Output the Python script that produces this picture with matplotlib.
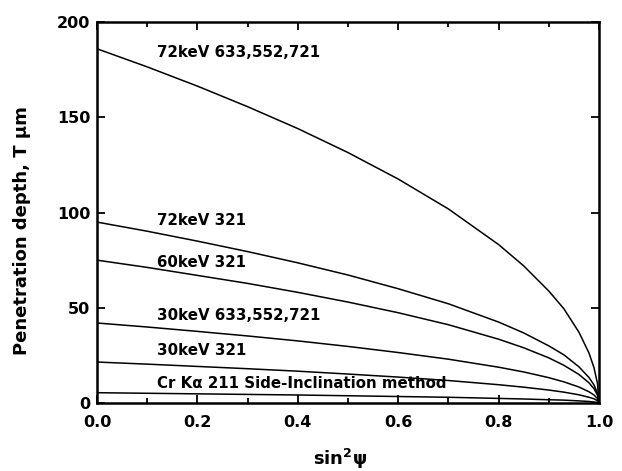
import matplotlib.pyplot as plt
from matplotlib.ticker import MultipleLocator

plt.rcParams['font.family'] = ['DejaVu Sans']
plt.rcParams['mathtext.fontset'] = 'dejavusans'

# sin^2(psi) sample points
sin2psi = [0.0, 0.1, 0.2, 0.3, 0.4, 0.5, 0.6, 0.7, 0.8, 0.85, 0.9, 0.93, 0.96, 0.98, 0.99, 0.997, 1.0]

# penetration depth T (um) for each condition
t_72kev_633 = [186, 176.5, 166.4, 155.6, 144.1, 131.5, 117.6, 101.9, 83.2, 72.0, 58.8, 49.5, 37.2, 26.3, 18.6, 10.2, 0]
t_72kev_321 = [95, 90.2, 85.0, 79.5, 73.6, 67.2, 60.0, 52.1, 42.5, 36.8, 30.0, 25.3, 19.0, 13.4, 9.5, 5.2, 0]
t_60kev_321 = [75, 71.2, 67.0, 62.8, 58.1, 53.0, 47.4, 41.1, 33.5, 29.0, 23.7, 19.8, 15.0, 10.6, 7.5, 4.1, 0]
t_30kev_633 = [42, 39.9, 37.6, 35.2, 32.6, 29.7, 26.5, 23.0, 18.8, 16.3, 13.3, 11.1, 8.4, 5.9, 4.2, 2.3, 0]
t_30kev_321 = [21.5, 20.4, 19.2, 18.0, 16.7, 15.2, 13.6, 11.8, 9.6, 8.3, 6.8, 5.7, 4.3, 3.0, 2.2, 1.2, 0]
t_cr_211 = [5.4, 5.1, 4.8, 4.5, 4.2, 3.8, 3.4, 3.0, 2.4, 2.1, 1.7, 1.5, 1.1, 0.8, 0.5, 0.3, 0]

series = [t_72kev_633, t_72kev_321, t_60kev_321, t_30kev_633, t_30kev_321, t_cr_211]
labels = ["72keV 633,552,721", "72keV 321", "60keV 321",
          "30keV 633,552,721", "30keV 321", "Cr K\u03b1 211 Side-Inclination method"]
label_y = [184, 96, 74, 46, 27.5, 10.3]

fig = plt.figure(figsize=(6.22, 4.71), dpi=100)
ax = fig.add_axes([0.156, 0.1444, 0.807, 0.8086])

for t in series:
    ax.plot(sin2psi, t, color='black', linewidth=1.1)

# curve labels
for lab, ly in zip(labels, label_y):
    ax.text(0.12, ly, lab, fontsize=10.8, fontweight='bold', va='center', ha='left')

ax.set_xlim(0, 1.0)
ax.set_ylim(0, 200)
ax.xaxis.set_minor_locator(MultipleLocator(0.1))
ax.yaxis.set_major_locator(MultipleLocator(50))
ax.set_xticks([0, 0.2, 0.4, 0.6, 0.8, 1.0])
ax.set_xticklabels(["0.0", "0.2", "0.4", "0.6", "0.8", "1.0"])

ax.tick_params(which='both', direction='in', top=True, right=True, width=1.3)
ax.tick_params(which='major', length=6, labelsize=11.5)
ax.tick_params(axis='x', which='major', pad=9)
ax.tick_params(axis='y', which='major', pad=5)
ax.tick_params(which='minor', length=3.5)
for lbl in ax.get_xticklabels() + ax.get_yticklabels():
    lbl.set_fontweight('bold')
for sp in ax.spines.values():
    sp.set_linewidth(1.8)

# axis titles placed where the reference has them
fig.text(22 / 622, 1 - 231 / 471, "Penetration depth, T \u03bcm", rotation=90,
         fontsize=13, fontweight='bold', ha='center', va='center')
fig.text(340 / 622, 1 - 459 / 471, "sin$^{\\mathbf{2}}$\u03c8",
         fontsize=13, fontweight='bold', ha='center', va='center')

fig.savefig("out.png", dpi=100)
